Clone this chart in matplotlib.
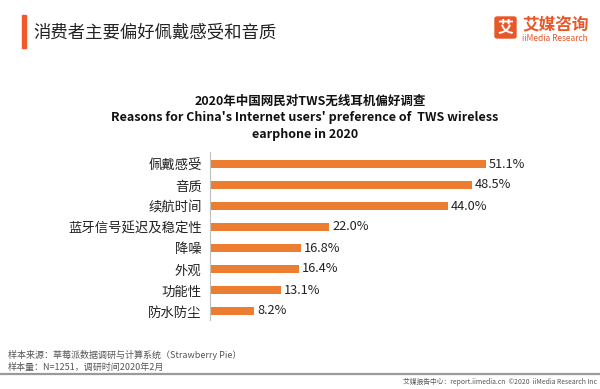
import matplotlib
matplotlib.use("Agg")
import matplotlib.pyplot as plt
from matplotlib.patches import Rectangle, FancyBboxPatch

plt.rcParams['font.family'] = ['Noto Sans CJK SC', 'DejaVu Sans']

categories = ["佩戴感受", "音质", "续航时间", "蓝牙信号延迟及稳定性", "降噪", "外观", "功能性", "防水防尘"]
values = [51.1, 48.5, 44.0, 22.0, 16.8, 16.4, 13.1, 8.2]
value_labels = ["51.1%", "48.5%", "44.0%", "22.0%", "16.8%", "16.4%", "13.1%", "8.2%"]

W, H = 600, 389
fig = plt.figure(figsize=(W / 100, H / 100), dpi=100)
fig.patch.set_facecolor("white")

def fx(px):
    return px / W

def fy(py):
    return 1 - py / H

bar_color = "#ED7D31"
accent = "#F05A28"

# header
fig.patches.append(Rectangle((fx(22), fy(48)), fx(4), 33 / H, transform=fig.transFigure,
                             color=accent, zorder=2))
fig.text(fx(33), fy(32), "消费者主要偏好佩戴感受和音质", fontsize=12.5, color="#222222",
         va="center", ha="left")

# logo
fig.patches.append(FancyBboxPatch((fx(495), fy(38)), fx(21), 21 / H, transform=fig.transFigure,
                                  boxstyle="round,pad=0,rounding_size=0.004", color="#E8572A"))
fig.text(fx(505.5), fy(27.5), "艾", fontsize=11.5, color="white", weight="bold",
         ha="center", va="center")
fig.text(fx(522), fy(25), "艾媒咨询", fontsize=12, color="#E8572A", weight="bold",
         ha="left", va="center")
fig.text(fx(522), fy(38.5), "iiMedia Research", fontsize=6, color="#E8572A",
         ha="left", va="center")

# chart title
fig.text(fx(310), fy(101), "2020年中国网民对TWS无线耳机偏好调查", fontsize=9, weight="bold",
         color="#111111", ha="center", va="center")
fig.text(fx(305), fy(117.5), "Reasons for China's Internet users' preference of  TWS wireless",
         fontsize=9, weight="bold", color="#111111", ha="center", va="center")
fig.text(fx(305), fy(134), "earphone in 2020", fontsize=9, weight="bold",
         color="#111111", ha="center", va="center")

# axes
left_px, right_px = 210, 534
top_px, bot_px = 152, 320
ax = fig.add_axes([fx(left_px), fy(bot_px), (right_px - left_px) / W, (bot_px - top_px) / H])
ypos = list(range(len(categories)))
ax.barh(ypos, values, height=0.4, color=bar_color)
ax.set_xlim(0, 60)
ax.set_ylim(7 + 9 / 21, -12 / 21)
ax.set_yticks(ypos)
ax.set_yticklabels(categories, fontsize=9.6, color="#222222")
ax.tick_params(axis="y", length=0, pad=6)
ax.set_xticks([])
for s in ["top", "right", "bottom"]:
    ax.spines[s].set_visible(False)
ax.spines["left"].set_color("#BFBFBF")
ax.spines["left"].set_linewidth(0.8)
for y, v, lab in zip(ypos, values, value_labels):
    ax.text(v + 0.6, y, lab, fontsize=9.2, color="#222222", va="center", ha="left")

# footer
fig.text(fx(8), fy(355), "样本来源：草莓派数据调研与计算系统（Strawberry Pie）", fontsize=6.5,
         color="#555555", ha="left", va="center")
fig.text(fx(8), fy(367), "样本量：N=1251，调研时间2020年2月", fontsize=6.5,
         color="#555555", ha="left", va="center")
fig.lines.append(plt.Line2D([0, 1], [fy(374), fy(374)], transform=fig.transFigure,
                            color="#9A9A9A", linewidth=1.6))
fig.text(fx(597), fy(382), "艾媒报告中心：report.iimedia.cn  ©2020  iiMedia Research Inc",
         fontsize=4.9, color="#555555", ha="right", va="center")

fig.savefig("out.png", dpi=100, facecolor="white")
